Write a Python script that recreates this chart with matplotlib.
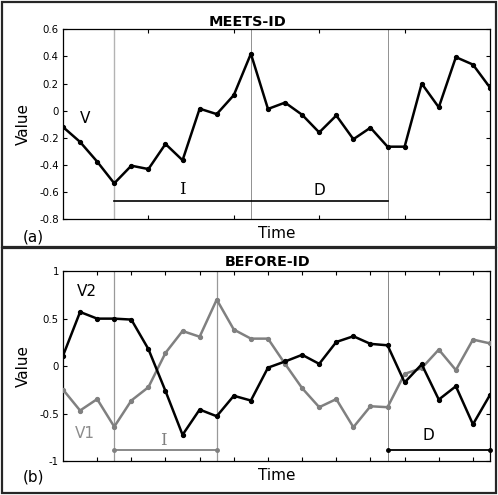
import numpy as np
import matplotlib.pyplot as plt
from matplotlib.patches import Rectangle

# panel (a): MEETS-ID
v_a = [-0.12, -0.23, -0.375, -0.535, -0.405, -0.43, -0.245, -0.365, 0.015, -0.025,
       0.115, 0.42, 0.013, 0.06, -0.03, -0.16, -0.035, -0.21, -0.125, -0.265,
       -0.265, 0.20, 0.025, 0.395, 0.34, 0.17]
cuts_a = [3, 11, 19]

# panel (b): BEFORE-ID
v2_b = [0.11, 0.57, 0.50, 0.50, 0.49, 0.18, -0.26, -0.72, -0.455, -0.525,
        -0.31, -0.36, -0.015, 0.05, 0.12, 0.025, 0.255, 0.315, 0.235, 0.22,
        -0.17, 0.02, -0.35, -0.21, -0.61, -0.30]
v1_b = [-0.245, -0.465, -0.345, -0.635, -0.36, -0.22, 0.14, 0.37, 0.31, 0.70,
        0.385, 0.29, 0.29, 0.025, -0.23, -0.43, -0.345, -0.64, -0.42, -0.43,
        -0.08, -0.02, 0.175, -0.04, 0.28, 0.24]
cuts_b = [3, 9, 19]

t = np.arange(len(v_a))

fig = plt.figure(figsize=(4.98, 4.95), dpi=100)

def style(ax, ylim, yticks, xstep):
    ax.set_xlim(0, len(t) - 1)
    ax.set_ylim(*ylim)
    ax.set_yticks(yticks)
    ax.set_yticklabels([('%g' % y) for y in yticks], fontsize=7.3)
    ax.set_xticks(np.arange(xstep, len(t) - 1, xstep))
    ax.set_xticklabels([])
    ax.tick_params(direction='in', top=True, right=True, length=3, width=0.8, pad=3)
    for s in ax.spines.values():
        s.set_linewidth(0.9)
    ax.set_xlabel('Time', fontsize=11, labelpad=2)
    ax.set_ylabel('Value', fontsize=11, labelpad=6)

# (a)
ax1 = fig.add_axes([0.1265, 0.557, 0.8575, 0.3838])
for i, c in enumerate(cuts_a):
    ax1.axvline(c, color='0.7' if i == 0 else '0.5', lw=1.0 if i == 0 else 0.6, zorder=1)
ax1.plot(t, v_a, color='black', lw=1.8, marker='o', ms=2.8, zorder=3)
ax1.plot([cuts_a[0], cuts_a[2]], [-0.665, -0.665], color='black', lw=1.2)
ax1.text(7, -0.645, 'I', fontsize=12, ha='center', va='bottom', family='DejaVu Serif')
ax1.text(15, -0.645, 'D', fontsize=11, ha='center', va='bottom')
ax1.text(1.3, -0.06, 'V', fontsize=11, ha='center', va='center')
style(ax1, (-0.8, 0.6), [-0.8, -0.6, -0.4, -0.2, 0, 0.2, 0.4, 0.6], 5)

# (b)
ax2 = fig.add_axes([0.1265, 0.0677, 0.8575, 0.3848])
for i, c in enumerate(cuts_b):
    ax2.axvline(c, color='0.6' if i < 2 else '0.45', lw=0.9 if i < 2 else 0.6, zorder=1)
ax2.plot(t, v1_b, color='0.5', lw=1.8, marker='o', ms=2.8, zorder=3)
ax2.plot(t, v2_b, color='black', lw=1.8, marker='o', ms=2.8, zorder=4)
ax2.plot([cuts_b[0], cuts_b[1]], [-0.88, -0.88], color='0.5', lw=1.3, marker='o', ms=2.5)
ax2.plot([cuts_b[2], len(t) - 1], [-0.88, -0.88], color='black', lw=1.3, marker='o', ms=2.5,
         clip_on=False)
ax2.text(5.9, -0.78, 'I', fontsize=12, ha='center', va='center', color='0.5', family='DejaVu Serif')
ax2.text(21.4, -0.73, 'D', fontsize=11, ha='center', va='center')
ax2.text(1.4, 0.79, 'V2', fontsize=11, ha='center', va='center')
ax2.text(1.3, -0.71, 'V1', fontsize=11, ha='center', va='center', color='0.55')
style(ax2, (-1, 1), [-1, -0.5, 0, 0.5, 1], 2)

# titles, panel letters and frames
fig.text(247 / 498, 1 - 22 / 495, 'MEETS-ID', fontsize=10.4, fontweight='bold', ha='center', va='center')
fig.text(268 / 498, 1 - 262 / 495, 'BEFORE-ID', fontsize=10.3, fontweight='bold', ha='center', va='center')
fig.text(0.045, 1 - 237 / 495, '(a)', fontsize=11, va='center')
fig.text(0.045, 1 - 477 / 495, '(b)', fontsize=11, va='center')
fig.patches.append(Rectangle((2 / 498, 1 - 247 / 495), 494 / 498, 245 / 495,
                             transform=fig.transFigure, fill=False, lw=1.6, ec='0.15'))
fig.patches.append(Rectangle((2 / 498, 1 - 493 / 495), 494 / 498, 245 / 495,
                             transform=fig.transFigure, fill=False, lw=1.6, ec='0.15'))

plt.savefig('out.png', dpi=100)
